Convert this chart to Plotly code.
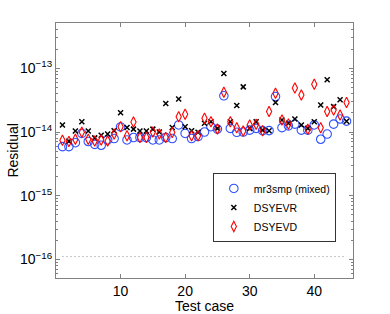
import plotly.graph_objects as go

test_case = list(range(1, 46))

mr3smp = [5.9e-15, 5.9e-15, 6.8e-15, 9.5e-15, 7.1e-15, 6.4e-15, 6.2e-15, 7.5e-15, 7.9e-15, 1.2e-14,
          7.5e-15, 8.2e-15, 8.2e-15, 8.2e-15, 7.5e-15, 7.5e-15, 8.2e-15, 7.9e-15, 1.29e-14, 9.5e-15,
          7.9e-15, 8.5e-15, 1.0e-14, 1.21e-14, 1.11e-14, 3.7e-14, 1.14e-14, 9.9e-15, 1.0e-14, 1.07e-14,
          1.14e-14, 1.05e-14, 1.05e-14, 3.6e-14, 1.17e-14, 1.25e-14, 1.33e-14, 1.07e-14, 1.07e-14, 1.29e-14,
          7.7e-15, 9.3e-15, 1.33e-14, 1.6e-14, 1.48e-14]

dsyevr = [1.29e-14, 7.2e-15, 1.04e-14, 1.45e-14, 1.04e-14, 8.1e-15, 8.9e-15, 9.3e-15, 1.05e-14, 2.0e-14,
          1.18e-14, 1.11e-14, 1.04e-14, 1.04e-14, 1.11e-14, 1.0e-14, 2.8e-14, 1.18e-14, 3.3e-14, 1.21e-14,
          1.05e-14, 9.9e-15, 1.37e-14, 1.45e-14, 1.14e-14, 8.3e-14, 1.45e-14, 2.6e-14, 5.1e-14, 1.14e-14,
          1.45e-14, 1.07e-14, 1.05e-14, 2.9e-14, 1.54e-14, 1.37e-14, 1.6e-14, 1.29e-14, 1.14e-14, 1.45e-14,
          2.65e-14, 6.6e-14, 2.5e-14, 3.2e-14, 1.48e-14]

dsyevd = [7.4e-15, 7.1e-15, 7.7e-15, 9.9e-15, 7.7e-15, 7.2e-15, 7.5e-15, 7.2e-15, 9.3e-15, 1.21e-14,
          8.7e-15, 1.43e-14, 8.2e-15, 8.2e-15, 1.0e-14, 9.3e-15, 8.2e-15, 9.8e-15, 1.74e-14, 1.9e-14,
          8.7e-15, 8.7e-15, 1.64e-14, 1.45e-14, 1.11e-14, 4.2e-14, 1.45e-14, 1.17e-14, 1.04e-14, 1.29e-14,
          1.32e-14, 1.05e-14, 2.1e-14, 4.07e-14, 1.54e-14, 1.33e-14, 4.9e-14, 3.8e-14, 1.1e-14, 5.6e-14,
          1.17e-14, 2.1e-14, 2.22e-14, 1.85e-14, 2.9e-14]

eps = 1.11e-16
x_ticks = [10, 20, 30, 40]
y_tick_exps = [-16, -15, -14, -13]

font = "Liberation Sans, Arial, sans-serif"

fig = go.Figure()
fig.add_trace(go.Scatter(x=[test_case[0], test_case[-1]], y=[eps, eps], mode="lines",
                         line=dict(color="#888888", width=1, dash="1px,3px"), showlegend=False,
                         hoverinfo="skip"))
fig.add_trace(go.Scatter(x=test_case, y=mr3smp, mode="markers", name="mr3smp (mixed)",
                         marker=dict(symbol="circle-open", size=8.5, color="#3050ff",
                                     line=dict(width=1.1, color="#3050ff"))))
fig.add_trace(go.Scatter(x=test_case, y=dsyevr, mode="markers", name="DSYEVR",
                         marker=dict(symbol="x-thin-open", size=5, color="black",
                                     line=dict(width=1.5, color="black"))))
fig.add_trace(go.Scatter(x=test_case, y=dsyevd, mode="markers", name="DSYEVD",
                         marker=dict(symbol="diamond-tall-open", size=7.5, color="#ff0000",
                                     line=dict(width=1.1, color="#ff0000"))))

axis_common = dict(showline=True, linecolor="#808080", linewidth=1, mirror="ticks",
                   ticks="inside", tickcolor="#808080", showgrid=False, zeroline=False,
                   automargin=False,
                   tickfont=dict(family=font, size=14, color="black"))

fig.update_xaxes(range=[0, 46], tickvals=x_ticks, ticklen=4, **axis_common)
fig.update_yaxes(type="log", range=[-16.29, -12.29],
                 tickvals=[10 ** e for e in y_tick_exps],
                 ticktext=[f"10<sup>\u2212{-e}</sup>" for e in y_tick_exps],
                 ticklen=4,
                 minor=dict(ticks="inside", ticklen=2, tickcolor="#808080", dtick="D1"),
                 **axis_common)

fig.add_annotation(text="Test case", xref="paper", yref="paper", x=0.5, y=-0.11,
                   xanchor="center", yanchor="middle", showarrow=False,
                   font=dict(family=font, size=14, color="black"))
fig.add_annotation(text="Residual", xref="paper", yref="paper", x=-0.148, y=0.5,
                   xanchor="center", yanchor="middle", showarrow=False, textangle=-90,
                   font=dict(family=font, size=14, color="black"))

fig.update_layout(
    width=390, height=314,
    margin=dict(l=56, r=37, t=23, b=36),
    paper_bgcolor="white", plot_bgcolor="white",
    font=dict(family=font, size=11, color="black"),
    legend=dict(x=0.528, y=0.412, xanchor="left", yanchor="top",
                bordercolor="#333333", borderwidth=1, bgcolor="white",
                font=dict(family=font, size=10.5, color="black"),
                tracegroupgap=0, itemwidth=30),
)

fig.write_html("out.html", config={"displayModeBar": False},
               post_script="document.body.style.margin='0';")
